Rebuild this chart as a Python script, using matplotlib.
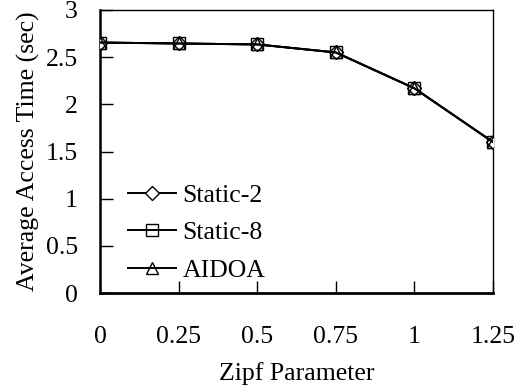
import matplotlib.pyplot as plt

# Dados
zipf = [0, 0.25, 0.5, 0.75, 1, 1.25]
static2 = [2.655, 2.645, 2.635, 2.55, 2.17, 1.60]
static8 = [2.655, 2.645, 2.635, 2.55, 2.17, 1.60]
aidoa = [2.655, 2.645, 2.635, 2.55, 2.17, 1.60]

plt.rcParams['font.family'] = ['Liberation Serif', 'DejaVu Serif']
fs = 18.5

fig = plt.figure(figsize=(5.16, 3.88), dpi=100)
ax = fig.add_axes([100 / 516, 95 / 388, 393 / 516, 283 / 388])

ax.plot(zipf, static2, marker='D', markersize=7, color='black', mfc='white',
        lw=1.4, label='Static-2', zorder=3)
ax.plot(zipf, static8, marker='s', markersize=8, color='black', mfc='none',
        lw=1.4, label='Static-8', zorder=4)
ax.plot(zipf, aidoa, marker='^', markersize=8, color='black', mfc='none',
        lw=1.4, label='AIDOA', zorder=5)

ax.set_xlim(0, 1.25)
ax.set_ylim(0, 3)
ax.set_xticks(zipf)
ax.set_xticklabels(['0', '0.25', '0.5', '0.75', '1', '1.25'])
ax.set_yticks([0, 0.5, 1, 1.5, 2, 2.5, 3])
ax.set_yticklabels(['0', '0.5', '1', '1.5', '2', '2.5', '3'])
ax.tick_params(direction='in', length=9, width=1, labelsize=fs)
ax.tick_params(axis='x', pad=24)
ax.tick_params(axis='y', pad=16)
for s in ax.spines.values():
    s.set_linewidth(1)
ax.spines['bottom'].set_linewidth(2)
ax.spines['left'].set_linewidth(1.8)

ax.set_xlabel('Zipf Parameter', fontsize=fs, labelpad=10)
ax.set_ylabel('Average Access Time (sec)', fontsize=fs, labelpad=4)

leg = ax.legend(loc='lower left', bbox_to_anchor=(0.07, 0.04), frameon=False,
                fontsize=fs, handlelength=1.87, labelspacing=0.56,
                handletextpad=0.27, borderpad=0, borderaxespad=0)

fig.savefig('out.png', dpi=100)
